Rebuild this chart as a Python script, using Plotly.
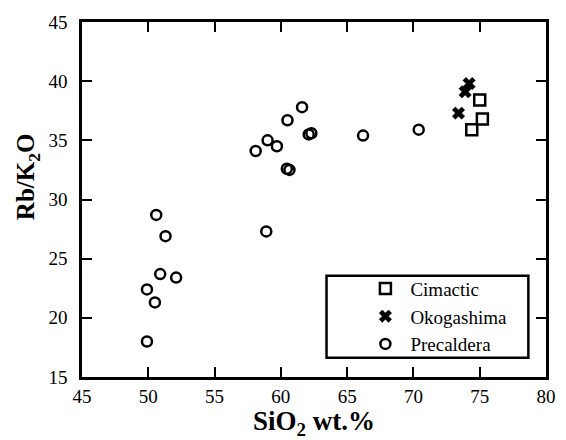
import plotly.graph_objects as go

# Data
cim_sio2 = [75.0, 75.2, 74.4]
cim_rbk = [38.4, 36.8, 35.9]

oko_sio2 = [74.2, 73.9, 73.4]
oko_rbk = [39.8, 39.1, 37.3]

pre_sio2 = [50.6, 51.3, 50.9, 52.1, 49.9, 50.5, 49.9,
            61.6, 60.5, 62.1, 62.3, 59.0, 59.7, 58.1,
            60.45, 60.65, 58.9, 66.2, 70.4]
pre_rbk = [28.7, 26.9, 23.7, 23.4, 22.4, 21.3, 18.0,
           37.8, 36.7, 35.5, 35.6, 35.0, 34.5, 34.1,
           32.6, 32.5, 27.3, 35.4, 35.9]

x_ticks = [45, 50, 55, 60, 65, 70, 75, 80]
y_ticks = [15, 20, 25, 30, 35, 40, 45]

FONT = "Liberation Serif, Times New Roman, Times, serif"

fig = go.Figure()
fig.add_trace(go.Scatter(
    x=cim_sio2, y=cim_rbk, mode="markers", name="Cimactic",
    marker=dict(symbol="square-open", size=11, color="black",
                line=dict(width=2.5, color="black"))))
fig.add_trace(go.Scatter(
    x=oko_sio2, y=oko_rbk, mode="markers", name="Okogashima",
    marker=dict(symbol="x", size=11, color="black",
                line=dict(width=0.5, color="black"))))
fig.add_trace(go.Scatter(
    x=pre_sio2, y=pre_rbk, mode="markers", name="Precaldera",
    marker=dict(symbol="circle-open", size=10, color="black",
                line=dict(width=2.5, color="black"))))

axis_common = dict(
    showgrid=False, zeroline=False, showline=True, linecolor="black",
    linewidth=2.5, mirror="ticks", ticks="inside", ticklen=10,
    tickwidth=2, tickcolor="black",
    tickfont=dict(family=FONT, size=19, color="black"),
)

fig.update_xaxes(range=[45, 80], tickvals=x_ticks,
                 ticktext=[str(v) for v in x_ticks],
                 title=dict(text="<b>SiO<sub>2</sub> wt.%</b>",
                            font=dict(family=FONT, size=27, color="black"),
                            standoff=3),
                 **axis_common)
fig.update_yaxes(range=[15, 45], tickvals=y_ticks,
                 ticktext=[str(v) for v in y_ticks],
                 ticklabelstandoff=8,
                 **axis_common)

fig.add_annotation(
    text="<b>Rb/K<sub>2</sub>O</b>", textangle=-90,
    xref="paper", yref="paper", x=-0.117, y=0.565,
    xanchor="center", yanchor="middle", showarrow=False,
    font=dict(family=FONT, size=25, color="black"))

# legend frame
fig.add_shape(type="rect", xref="paper", yref="paper",
              x0=0.527, x1=0.962, y0=0.054, y1=0.285,
              line=dict(color="black", width=2.5), fillcolor="white",
              layer="below")

fig.update_layout(
    width=566, height=440,
    margin=dict(l=82, r=10, t=22, b=63),
    paper_bgcolor="white", plot_bgcolor="white",
    showlegend=True,
    legend=dict(x=0.6, y=0.17, xanchor="left", yanchor="middle",
                bgcolor="rgba(0,0,0,0)", borderwidth=0,
                font=dict(family=FONT, size=19, color="black"),
                itemwidth=40, tracegroupgap=0),
)

fig.write_html("out.html",
               config={"displayModeBar": False},
               post_script="document.body.style.margin='0';")
